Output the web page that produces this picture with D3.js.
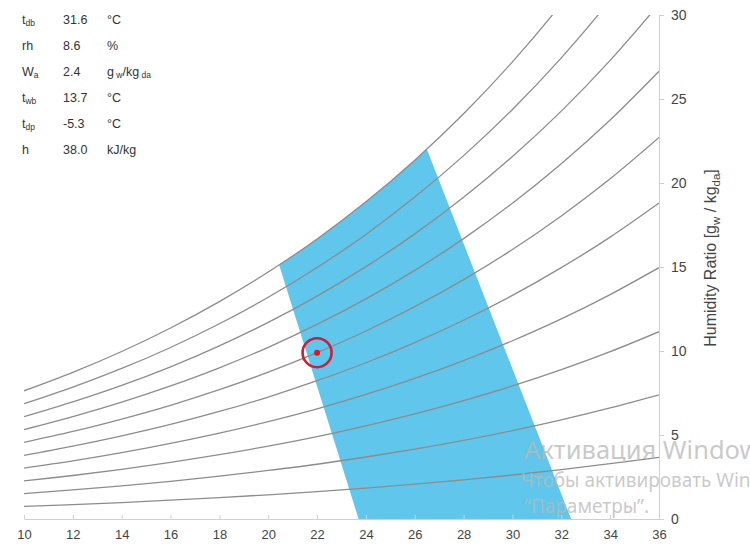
<!DOCTYPE html>
<html>
<head>
<meta charset="utf-8">
<script src="https://cdn.jsdelivr.net/npm/d3@7"></script>
<style>
  html, body { margin: 0; padding: 0; background: #fff; }
  svg { display: block; font-family: "Liberation Sans", Arial, sans-serif; }
</style>
</head>
<body>
<svg id="chart" width="750" height="551"></svg>
<script>
// Dry-bulb temperatures (°C) at which each relative-humidity line is sampled
const temps = [10, 12, 14, 16, 18, 20, 22, 24, 26, 28, 30, 32, 34, 36];

// Humidity ratio (g/kg dry air) along each relative-humidity line
const rh10  = [0.75, 0.86, 0.98, 1.12, 1.27, 1.44, 1.63, 1.84, 2.07, 2.33, 2.62, 2.94, 3.29, 3.67];
const rh20  = [1.51, 1.73, 1.97, 2.24, 2.55, 2.89, 3.26, 3.69, 4.16, 4.68, 5.26, 5.90, 6.61, 7.39];
const rh30  = [2.27, 2.59, 2.96, 3.37, 3.83, 4.34, 4.91, 5.55, 6.26, 7.05, 7.92, 8.89, 9.96, 11.15];
const rh40  = [3.03, 3.46, 3.95, 4.50, 5.11, 5.80, 6.56, 7.42, 8.37, 9.43, 10.61, 11.91, 13.36, 14.96];
const rh50  = [3.79, 4.34, 4.95, 5.63, 6.40, 7.26, 8.23, 9.30, 10.50, 11.83, 13.31, 14.96, 16.78, 18.81];
const rh60  = [4.56, 5.21, 5.95, 6.77, 7.70, 8.74, 9.90, 11.19, 12.64, 14.25, 16.04, 18.04, 20.25, 22.71];
const rh70  = [5.32, 6.09, 6.95, 7.92, 9.00, 10.22, 11.58, 13.10, 14.80, 16.69, 18.80, 21.15, 23.75, 26.65];
const rh80  = [6.09, 6.97, 7.95, 9.06, 10.31, 11.70, 13.27, 15.02, 16.97, 19.15, 21.58, 24.28, 27.30, 30.65];
const rh90  = [6.86, 7.85, 8.96, 10.21, 11.62, 13.20, 14.97, 16.94, 19.16, 21.63, 24.38, 27.45, 30.88, 34.69];
const rh100 = [7.63, 8.73, 9.97, 11.37, 12.94, 14.70, 16.67, 18.88, 21.36, 24.12, 27.21, 30.66, 34.50, 38.79];

// Comfort zone outline (dry-bulb °C, humidity ratio g/kg)
const zoneT = [20.45, 21, 22, 23, 24, 25, 26, 26.5, 32.4, 23.7];
const zoneW = [15.10, 15.65, 16.67, 17.74, 18.88, 20.09, 21.36, 21.99, 0, 0];

// Current state point
const pointT = 22.0;
const pointW = 9.9;

// Axis ticks
const xTicks = [10, 12, 14, 16, 18, 20, 22, 24, 26, 28, 30, 32, 34, 36];
const yTicks = [0, 5, 10, 15, 20, 25, 30];

// Readout panel rows: symbol, subscript, value, unit (| separates subscripts)
const readLabels = ["t", "rh", "W", "t", "t", "h"];
const readSubs   = ["db", "", "a", "wb", "dp", ""];
const readValues = ["31.6", "8.6", "2.4", "13.7", "-5.3", "38.0"];
const readUnits  = ["°C", "%", "g|w|/kg|da", "°C", "°C", "kJ/kg"];

const rhSeries = [rh10, rh20, rh30, rh40, rh50, rh60, rh70, rh80, rh90, rh100];

const svg = d3.select("#chart");
const x = d3.scaleLinear().domain([10, 36]).range([24, 659]);
const y = d3.scaleLinear().domain([0, 30]).range([519, 15]);

svg.append("defs").append("clipPath").attr("id", "plot-clip")
  .append("rect")
  .attr("x", x(10)).attr("y", y(30))
  .attr("width", x(36) - x(10)).attr("height", y(0) - y(30));

const plot = svg.append("g").attr("clip-path", "url(#plot-clip)");

// comfort zone
const zonePts = zoneT.map((t, i) => [x(t), y(zoneW[i])]);
plot.append("path")
  .attr("d", d3.line()(zonePts) + "Z")
  .attr("fill", "#61c6eb")
  .attr("stroke", "none");

// relative humidity lines, 10 % to 100 %
const rhLine = d3.line()
  .x((d, i) => x(temps[i]))
  .y(d => y(d))
  .curve(d3.curveCatmullRom.alpha(0.5));

plot.selectAll("path.rh")
  .data(rhSeries)
  .join("path")
  .attr("class", "rh")
  .attr("d", rhLine)
  .attr("fill", "none")
  .attr("stroke", "#8c8c8c")
  .attr("stroke-width", 1.3);

// x axis
const xAxis = d3.axisBottom(x)
  .tickValues(xTicks)
  .tickSizeInner(-4)
  .tickSizeOuter(0)
  .tickPadding(11)
  .tickFormat(d3.format("d"));
const gx = svg.append("g").attr("transform", `translate(0,${y(0)})`).call(xAxis);
gx.select(".domain").attr("stroke", "#d0d0d0");
gx.selectAll(".tick line").attr("stroke", "#d0d0d0");
gx.selectAll(".tick text")
  .attr("fill", "#444").attr("font-size", 13)
  .attr("font-family", "'Liberation Sans', Arial, sans-serif");

// right axis
const yAxis = d3.axisRight(y)
  .tickValues(yTicks)
  .tickSizeInner(5)
  .tickSizeOuter(0)
  .tickPadding(7)
  .tickFormat(d3.format("d"));
const gy = svg.append("g").attr("transform", `translate(${x(36)},0)`).call(yAxis);
gy.select(".domain").attr("stroke", "#d0d0d0");
gy.selectAll(".tick line").attr("stroke", "#d0d0d0");
gy.selectAll(".tick text")
  .attr("fill", "#444").attr("font-size", 14)
  .attr("font-family", "'Liberation Sans', Arial, sans-serif");

// y axis title
const title = svg.append("text")
  .attr("transform", "translate(716,258) rotate(-90)")
  .attr("text-anchor", "middle")
  .attr("font-size", 16)
  .attr("fill", "#444");
title.append("tspan").text("Humidity Ratio [g");
title.append("tspan").attr("font-size", 11.5).attr("dy", 4).text("w");
title.append("tspan").attr("dy", -4).text(" / kg");
title.append("tspan").attr("font-size", 11.5).attr("dy", 4).text("da");
title.append("tspan").attr("dy", -4).text("]");

// state point marker
svg.append("circle")
  .attr("cx", x(pointT)).attr("cy", y(pointW)).attr("r", 14.5)
  .attr("fill", "none").attr("stroke", "#c81f3c").attr("stroke-width", 2.6);
svg.append("circle")
  .attr("cx", x(pointT)).attr("cy", y(pointW)).attr("r", 3)
  .attr("fill", "#e0141e");

// readout panel
const panel = svg.append("g").attr("font-size", 12.5).attr("fill", "#333");
readLabels.forEach((lab, i) => {
  const by = 24 + i * 26;
  const t1 = panel.append("text").attr("x", 22).attr("y", by);
  t1.append("tspan").text(lab);
  if (readSubs[i]) t1.append("tspan").attr("font-size", 8.5).attr("dy", 2).text(readSubs[i]);
  panel.append("text").attr("x", 63).attr("y", by).text(readValues[i]);
  const t3 = panel.append("text").attr("x", 107).attr("y", by);
  const parts = readUnits[i].split("|");
  parts.forEach((p, k) => {
    const sub = k % 2 === 1;
    t3.append("tspan")
      .attr("font-size", sub ? 8.5 : null)
      .attr("dy", k === 0 ? 0 : (sub ? 2 : -2))
      .text(sub ? " " + p : p);
  });
});

// system notice overlay
const note = svg.append("g").attr("fill", "#b8b8b8").attr("fill-opacity", 0.75)
  .attr("font-family", "'Noto Sans', 'Open Sans', sans-serif");
note.append("text").attr("x", 524).attr("y", 459).attr("font-size", 25.5).text("Активация Windows");
note.append("text").attr("x", 521).attr("y", 487).attr("font-size", 19).text("Чтобы активировать Windows, перейдите в раздел");
note.append("text").attr("x", 524).attr("y", 513).attr("font-size", 19).text("“Параметры”.");
</script>
</body>
</html>
